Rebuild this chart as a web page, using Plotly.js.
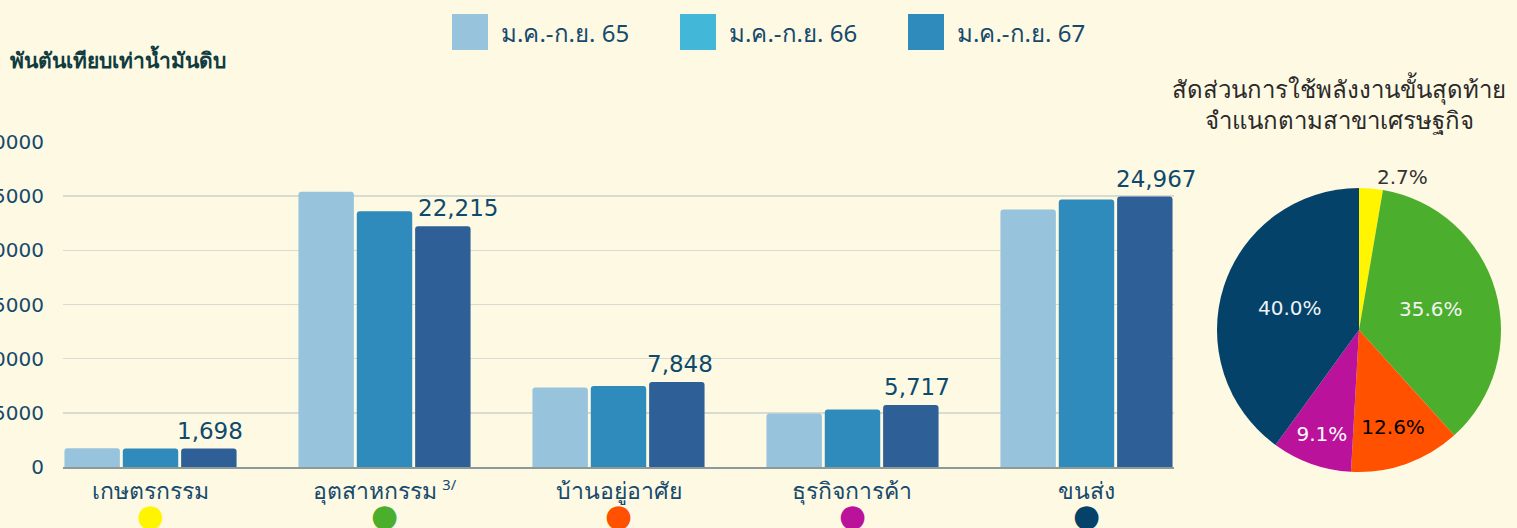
<!DOCTYPE html>
<html>
<head>
<meta charset="utf-8">
<script src="https://cdn.plot.ly/plotly-3.0.1.min.js"></script>
<style>
html,body{margin:0;padding:0;background:#fef9e3;}
#chart{width:1517px;height:528px;}
</style>
</head>
<body>
<div id="chart"></div>
<script>
// ---- data ----
const categories = ["เกษตรกรรม", "อุตสาหกรรม", "บ้านอยู่อาศัย", "ธุรกิจการค้า", "ขนส่ง"];
const footnotes = ["", "3/", "", "", ""];
const seriesNames = ["ม.ค.-ก.ย. 65", "ม.ค.-ก.ย. 66", "ม.ค.-ก.ย. 67"];
const values65 = [1720, 25400, 7350, 4950, 23770];
const values66 = [1700, 23600, 7470, 5300, 24700];
const values67 = [1698, 22215, 7848, 5717, 24967];
const pieShares = [2.7, 35.6, 12.6, 9.1, 40.0];
const yTicks = [0, 5000, 10000, 15000, 20000, 25000, 30000];
const pieTitle = "สัดส่วนการใช้พลังงานขั้นสุดท้าย<br>จำแนกตามสาขาเศรษฐกิจ";
const yTitle = "พันตันเทียบเท่าน้ำมันดิบ";

// ---- styles ----
const barColors = ["#97c3dc", "#2e8bbb", "#2f5f97"];
const legendColors = ["#97c3dc", "#43b7d8", "#2e8bbb"];
const sectorColors = ["#fff500", "#4cae2d", "#ff5100", "#bb129b", "#04426a"];
const pieTextColors = ["#333333", "#f2f2f2", "#000000", "#ffffff", "#eef2f4"];
const labelNudge = [1, 15, 3, 6, 11];   // px nudges of value labels (style)
const FONT = "Noto Sans, DejaVu Sans, sans-serif";
const NUMFONT = "DejaVu Sans, sans-serif";
const TXT = "#164a6c";

const L = 63, T = 40, B = 40, W = 1517, H = 528;
const PW = W - L, PH = H - T - B;
const px = x => (x - L) / PW;
const py = y => (H - B - y) / PH;
const BARGAP = 0.252, GROUPGAP = 0.05;
const slot = (1 - BARGAP) / 3;   // category units per bar slot

const seriesVals = [values65, values66, values67];
const traces = seriesVals.map((v, i) => ({
  type: "bar",
  x: categories,
  y: v,
  name: seriesNames[i],
  marker: {color: barColors[i]},
  showlegend: false,
  hoverinfo: "x+y+name"
}));

traces.push({
  type: "pie",
  values: pieShares,
  labels: categories,
  sort: false,
  direction: "clockwise",
  rotation: 0,
  marker: {colors: sectorColors, line: {width: 0}},
  texttemplate: "%{percent:.1%}",
  textposition: ["outside", "inside", "inside", "inside", "inside"],
  insidetextorientation: "horizontal",
  textfont: {family: NUMFONT, size: 20, color: pieTextColors},
  outsidetextfont: {family: NUMFONT, size: 20, color: "#333333"},
  domain: {x: [px(1217), px(1501)], y: [py(472), py(188)]},
  showlegend: false,
  automargin: false
});

const tickText = categories.map((c, i) =>
  '<span style="font-size:23px">' + c + '</span>' +
  (footnotes[i] ? ' <sup>' + footnotes[i] + '</sup>' : '') +
  '<br><span style="color:' + sectorColors[i] + ';font-size:31px">●</span>');

const shapes = [], annotations = [];
seriesNames.forEach((n, i) => {
  shapes.push({type: "rect", xref: "paper", yref: "paper",
    x0: px(452 + i * 228), x1: px(488 + i * 228), y0: py(50), y1: py(14),
    fillcolor: legendColors[i], line: {width: 0}});
  annotations.push({xref: "paper", yref: "paper", x: px(499 + i * 228), y: py(32),
    xanchor: "left", yanchor: "middle", showarrow: false, text: n,
    font: {family: FONT, size: 24, color: TXT}});
});
// value labels over the latest-period bars
values67.forEach((v, i) => {
  annotations.push({xref: "x", yref: "y", x: i + slot, y: v,
    xanchor: "center", yanchor: "bottom", showarrow: false,
    xshift: labelNudge[i], yshift: 3,
    text: v.toLocaleString("en-US"),
    font: {family: NUMFONT, size: 23, color: "#0d4a6c"}});
});
annotations.push({xref: "paper", yref: "paper", x: px(8), y: py(60),
  xanchor: "left", yanchor: "middle", showarrow: false, text: "<b>" + yTitle + "</b>",
  font: {family: FONT, size: 21, color: "#103c40"}});
annotations.push({xref: "paper", yref: "paper", x: px(1339), y: py(104),
  xanchor: "center", yanchor: "middle", showarrow: false, text: pieTitle, align: "center",
  font: {family: FONT, size: 24, color: "#2a2a2a"}});

const layout = {
  width: W, height: H,
  paper_bgcolor: "#fef9e3", plot_bgcolor: "rgba(0,0,0,0)",
  margin: {l: L, r: 0, t: T, b: B},
  font: {family: FONT, color: TXT},
  barmode: "group", bargap: BARGAP, bargroupgap: GROUPGAP, barcornerradius: 3,
  xaxis: {
    domain: [0, px(1174)], range: [-0.374, 4.374], type: "category",
    tickvals: categories, ticktext: tickText,
    tickfont: {family: FONT, size: 21, color: TXT},
    showline: true, linecolor: "#8d9a9c", linewidth: 1.5,
    showgrid: false, ticks: "", ticklabelstandoff: 5, fixedrange: true
  },
  yaxis: {
    domain: [py(467), py(142)], range: [0, 30000],
    tickvals: yTicks, tickformat: "d",
    tickfont: {family: NUMFONT, size: 20, color: TXT},
    gridcolor: "#d9dbd0", gridwidth: 1.5, zeroline: false,
    ticklabelstandoff: 18, fixedrange: true
  },
  shapes: shapes,
  annotations: annotations
};

Plotly.newPlot("chart", traces, layout, {displayModeBar: false, staticPlot: true});
</script>
</body>
</html>
